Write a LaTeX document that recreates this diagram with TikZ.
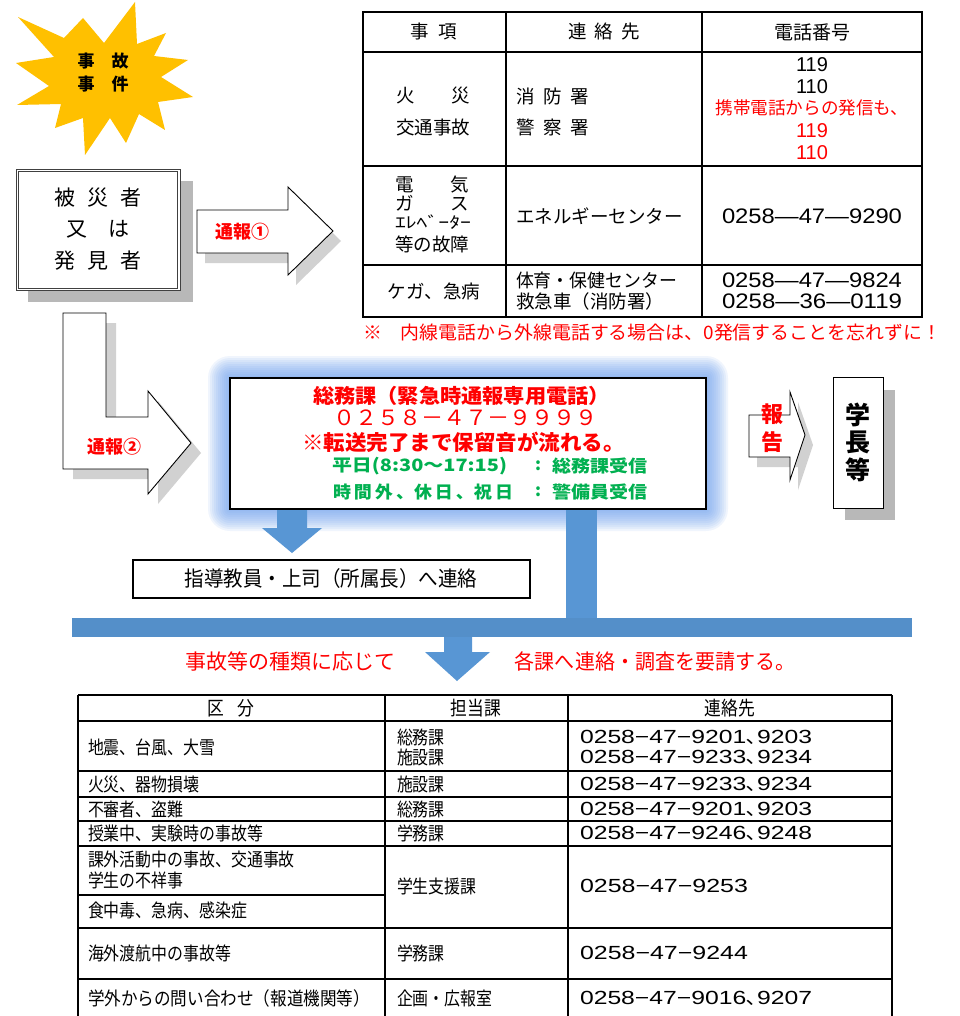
\documentclass[tikz,border=0pt]{standalone}
\usepackage{fontspec}
\usepackage{graphicx}
\setmainfont{Noto Sans CJK JP}
\newfontfamily\jpc[FakeStretch=0.86]{Noto Sans CJK JP}
\newfontfamily\ar{Liberation Sans}
\definecolor{starY}{RGB}{255,192,0}
\definecolor{jred}{RGB}{255,0,0}
\definecolor{jgreen}{RGB}{0,176,80}
\definecolor{barblue}{RGB}{88,150,212}
\definecolor{glowc}{RGB}{110,160,240}
\newcommand\fs[2]{\fontsize{#1}{#2}\selectfont}
\newcommand\W[2]{\resizebox{#1pt}{\height}{#2}}
\begin{document}
\begin{tikzpicture}[x=1pt,y=-1pt,
  t/.style={inner sep=0pt,outer sep=0pt},
  tw/.style={t,anchor=west},
  blockarrow/.style={fill=white,draw=black,line width=0.9pt,line join=miter},
  shd/.style={fill=black!18},
  bluearrow/.style={fill=barblue,draw=none},
  tline/.style={line width=2.6pt},
  tvline/.style={line width=1.8pt},
  bline/.style={line width=1.1pt},
  redb/.style={text=jred,font=\bfseries\fs{18}{18}},
  cell/.style={tw,font=\jpc\fs{18.5}{18}},
  num/.style={tw,font=\jpc\fs{19}{19}},
  ttxt/.style={t,font=\fs{18.5}{19}},
]
\useasboundingbox (0,0) rectangle (959,1016);
\fill[white] (0,0) rectangle (959,1016);

% ---------- star ----------
\fill[starY] (83,18) -- (104,43) -- (135,2) -- (137,44) -- (166,33) -- (154,56) -- (188,60) -- (161,77) -- (193,97) -- (158,102) -- (165,130) -- (139,114) -- (126,143) -- (110,118) -- (85,155) -- (83,118) -- (55,128) -- (61,104) -- (17,105) -- (49,86) -- (16,63) -- (54,57) -- (18,17) -- (64,38) -- cycle;
\node[t,font=\bfseries\fs{17}{23},align=center] (star) at (103,73) {事　故\\事　件};

% ---------- victim box ----------
\fill[black!28] (28,181) rectangle (193,302);
\node[draw=black!75,line width=1pt,fill=white,minimum width=164,minimum height=121,inner sep=0pt] (vbox) at (98,230) {};
\draw[black!75,line width=0.7pt] ([shift={(2.8,2.8)}]vbox.north west) rectangle ([shift={(-2.8,-2.8)}]vbox.south east);
\node[t,font=\fs{21}{31.5},align=center] (victim) at (98,229) {被\hspace{12pt}災\hspace{12pt}者\\又\hspace{22pt}は\\発\hspace{12pt}見\hspace{12pt}者};

% ---------- arrow 1 ----------
\fill[shd] (205,220) -- (296,220) -- (296,197) -- (341,241) -- (296,285) -- (296,263) -- (205,263) -- cycle;
\draw[blockarrow] (197,210) -- (288,210) -- (288,187) -- (333,231) -- (288,275) -- (288,253) -- (197,253) -- cycle;
\node[t,redb] (tsuho1) at (242,232) {通報①};

% ---------- top table ----------
\draw[tline] (363,12) rectangle (922,317);
\draw[tline] (363,52) -- (922,52) (363,166) -- (922,166) (363,265) -- (922,265);
\draw[tvline] (506,12) -- (506,317) (702,12) -- (702,317);
\node[t,font=\fs{18.5}{18}] (h1) at (434,32) {事\hspace{10pt}項};
\node[t,font=\fs{18.5}{18}] (h2) at (604,32) {連\hspace{8pt}絡\hspace{8pt}先};
\node[t,font=\fs{19}{19}] (h3) at (812,32) {電話番号};
% row 1
\node[ttxt] (r1a) at (433,96) {火　　災};
\node[ttxt] (r1b) at (433,127) {交通事故};
\node[ttxt,anchor=west] (r1c) at (516,96) {消\hspace{9pt}防\hspace{9pt}署};
\node[ttxt,anchor=west] (r1d) at (516,127) {警\hspace{9pt}察\hspace{9pt}署};
\node[t,font=\ar\fs{20}{20}] (n119) at (812,65) {119};
\node[t,font=\ar\fs{20}{20}] (n110) at (812,87) {110};
\node[t,text=jred,font=\fs{17.6}{18}] (mob) at (812,108) {携帯電話からの発信も、};
\node[t,text=jred,font=\ar\fs{20}{20}] (m119) at (812,131) {119};
\node[t,text=jred,font=\ar\fs{20}{20}] (m110) at (812,153) {110};
% row 2
\node[ttxt,anchor=west] (r2a) at (395,185) {電　　気};
\node[ttxt,anchor=west] (r2b) at (395,203) {ガ　　ス};
\node[t,anchor=west,font=\fs{16}{15}] (r2c) at (395,222) {\W{76}{ｴﾚﾍﾞｰﾀｰ}};
\node[ttxt,anchor=west] (r2d) at (395,244) {等の故障};
\node[ttxt,anchor=west] (r2e) at (516,216) {エネルギーセンター};
\node[t,font=\ar\fs{21}{21}] (r2f) at (812,216) {\W{180}{0258—47—9290}};
% row 3
\node[ttxt] (r3a) at (434,291) {ケガ、急病};
\node[ttxt,anchor=west] (r3b) at (516,280) {\W{161}{体育・保健センター}};
\node[ttxt,anchor=west] (r3c) at (516,301) {救急車（消防署）};
\node[t,font=\ar\fs{21}{21}] (r3d) at (812,280) {\W{180}{0258—47—9824}};
\node[t,font=\ar\fs{21}{21}] (r3e) at (812,301) {\W{180}{0258—36—0119}};
\node[tw,text=jred,font=\fs{18.5}{18}] (note) at (363,333) {\W{578}{※　内線電話から外線電話する場合は、0発信することを忘れずに！}};

% ---------- central box with glow ----------
\foreach \i in {22,20,...,2} {
  \fill[glowc,opacity=0.1,rounded corners=\i pt] (230-\i,378-\i) rectangle (706+\i,509+\i);
}
\node[draw=black,line width=2pt,fill=white,minimum width=476,minimum height=131,inner sep=0pt] (center) at (468,443.5) {};
\node[t,text=jred,font=\bfseries\fs{20}{20}] (c1) at (461.5,396) {\W{297}{総務課（緊急時通報専用電話）}};
\node[t,text=jred,font=\fs{21}{21}] (c2) at (465.5,418) {\W{265}{０２５８－４７－９９９９}};
\node[t,text=jred,font=\bfseries\fs{21}{21}] (c3) at (463.5,442) {\W{323}{※転送完了まで保留音が流れる。}};
\node[tw,text=jgreen,font=\bfseries\fs{17}{17}] (g1) at (332,466) {\W{175}{平日(8:30～17:15)}};
\node[t,text=jgreen,font=\bfseries\fs{17}{17}] (g1c) at (538,466) {:};
\node[tw,text=jgreen,font=\bfseries\fs{17}{17}] (g1r) at (552,466) {\W{95}{総務課受信}};
\node[tw,text=jgreen,font=\bfseries\fs{17}{17}] (g2) at (333,492) {\W{180}{時\,間\,外\,、休\,日\,、祝\,日}};
\node[t,text=jgreen,font=\bfseries\fs{17}{17}] (g2c) at (538,492) {:};
\node[tw,text=jgreen,font=\bfseries\fs{17}{17}] (g2r) at (552,492) {\W{95}{警備員受信}};

% ---------- arrow 2 (L shape) ----------
\fill[shd] (73,323) -- (116,323) -- (116,427) -- (158,427) -- (158,401) -- (201,453) -- (158,504) -- (158,479) -- (73,479) -- cycle;
\draw[blockarrow] (63,313) -- (106,313) -- (106,417) -- (148,417) -- (148,391) -- (191,443) -- (148,494) -- (148,469) -- (63,469) -- cycle;
\node[t,redb] (tsuho2) at (114,447) {通報②};

% ---------- report arrow ----------
\fill[shd] (757,425) -- (798,425) -- (798,402) -- (813,445) -- (798,490) -- (798,467) -- (757,467) -- cycle;
\draw[blockarrow] (749,415) -- (790,415) -- (790,392) -- (805,435) -- (790,480) -- (790,457) -- (749,457) -- cycle;
\node[t,text=jred,font=\bfseries\fs{22}{28},align=center] (houkoku) at (772,428) {報\\告};

% ---------- president box ----------
\fill[black!28] (845,390) rectangle (895,520);
\node[draw=black,line width=1pt,fill=white,minimum width=50,minimum height=131,inner sep=0pt] (pbox) at (858,442.5) {};
\node[t,font=\bfseries\fs{25}{27.5},align=center] (pres) at (858,442) {学\\長\\等};

% ---------- blue connectors ----------
\fill[bluearrow] (277,510) -- (307,510) -- (307,528) -- (322,528) -- (292,553) -- (262,528) -- (277,528) -- cycle;
\node[draw=black,line width=2pt,fill=white,minimum width=397,minimum height=38,inner sep=0pt] (guide) at (331.5,579) {};
\node[t,font=\jpc\fs{21}{20}] (guidet) at (331,579) {\W{293}{指導教員・上司（所属長）へ連絡}};
\fill[bluearrow] (566,510) rectangle (597,620);
\fill[barblue!95!black] (72,618) rectangle (912,637);
\fill[bluearrow] (444,637) -- (472,637) -- (472,652) -- (490,652) -- (457,681) -- (425,652) -- (444,652) -- cycle;
\node[t,text=jred,font=\jpc\fs{21}{20}] (req1) at (290,661) {\W{210}{事故等の種類に応じて}};
\node[t,text=jred,font=\jpc\fs{21}{20}] (req2) at (655,661) {\W{280}{各課へ連絡・調査を要請する。}};

% ---------- bottom table ----------
\draw[bline] (78,695) -- (892,695);
\draw[bline] (78,695) -- (78,1016) (385,695) -- (385,1016) (568,695) -- (568,1016) (892,695) -- (892,1016);
\foreach \yy in {721,771,797,821,846,928,979} { \draw[bline] (78,\yy) -- (892,\yy); }
\draw[bline] (78,895) -- (385,895);
\node[t,font=\jpc\fs{19.5}{18}] (bh1) at (231,708) {区\hspace{14pt}分};
\node[t,font=\jpc\fs{19.5}{18}] (bh2) at (476,708) {担当課};
\node[t,font=\jpc\fs{19.5}{18}] (bh3) at (730,708) {連絡先};

\node[cell] (a1) at (88,747) {地震、台風、大雪};
\node[cell] (b1a) at (397,737) {総務課};
\node[cell] (b1b) at (397,757) {施設課};
\node[num] (c1a) at (580,737) {\W{232}{{\ar 0258−47−9201}､{\ar 9203}}};
\node[num] (c1b) at (580,757) {\W{232}{{\ar 0258−47−9233}､{\ar 9234}}};

\node[cell] (a2) at (88,784) {火災、器物損壊};
\node[cell] (b2) at (397,784) {施設課};
\node[num] (c2n) at (580,784) {\W{232}{{\ar 0258−47−9233}､{\ar 9234}}};

\node[cell] (a3) at (88,809) {不審者、盗難};
\node[cell] (b3) at (397,809) {総務課};
\node[num] (c3n) at (580,809) {\W{232}{{\ar 0258−47−9201}､{\ar 9203}}};

\node[cell] (a4) at (88,833) {授業中、実験時の事故等};
\node[cell] (b4) at (397,833) {学務課};
\node[num] (c4n) at (580,833) {\W{232}{{\ar 0258−47−9246}､{\ar 9248}}};

\node[cell] (a5a) at (88,859) {課外活動中の事故、交通事故};
\node[cell] (a5b) at (88,880) {学生の不祥事};
\node[cell] (a5c) at (88,910) {食中毒、急病、感染症};
\node[cell] (b5) at (397,886) {学生支援課};
\node[num] (c5n) at (580,886) {\W{168}{{\ar 0258−47−9253}}};

\node[cell] (a6) at (88,953) {海外渡航中の事故等};
\node[cell] (b6) at (397,953) {学務課};
\node[num] (c6n) at (580,953) {\W{168}{{\ar 0258−47−9244}}};

\node[cell] (a7) at (88,998) {\W{282}{学外からの問い合わせ（報道機関等）}};
\node[cell] (b7) at (397,998) {企画・広報室};
\node[num] (c7n) at (580,998) {\W{232}{{\ar 0258−47−9016}､{\ar 9207}}};
\end{tikzpicture}
\end{document}
